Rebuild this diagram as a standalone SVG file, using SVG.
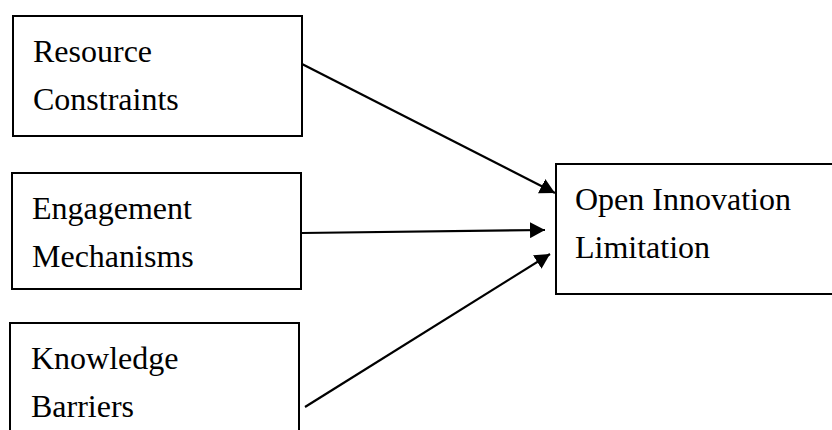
<svg xmlns="http://www.w3.org/2000/svg" width="832" height="430" viewBox="0 0 832 430">
<style>
.box{fill:#fff;stroke:#000;stroke-width:2}
.t{font-family:"Liberation Serif","Times New Roman",serif;font-size:32px;fill:#000}
.c{stroke:#000;stroke-width:2.2;fill:none;marker-end:url(#ah)}
</style>
<defs>
<marker id="ah" markerUnits="userSpaceOnUse" markerWidth="16" markerHeight="16" viewBox="0 0 16 16" refX="15" refY="8" orient="auto">
<path d="M0,0 L15,8 L0,16 Z" fill="#000"/>
</marker>
</defs>
<rect width="832" height="430" fill="#fff"/>
<g id="resource">
<rect class="box" x="13" y="16" width="289" height="120"/>
<text class="t" x="33" y="62">Resource</text>
<text class="t" x="33" y="110">Constraints</text>
</g>
<g id="engagement">
<rect class="box" x="12" y="173" width="289" height="116"/>
<text class="t" x="32" y="219">Engagement</text>
<text class="t" x="32" y="267">Mechanisms</text>
</g>
<g id="knowledge">
<rect class="box" x="10" y="323" width="289" height="120"/>
<text class="t" x="31" y="369">Knowledge</text>
<text class="t" x="31" y="417">Barriers</text>
</g>
<g id="open-innovation">
<rect class="box" x="556" y="164" width="290" height="130"/>
<text class="t" x="575" y="210">Open Innovation</text>
<text class="t" x="575" y="258">Limitation</text>
</g>
<g id="connectors">
<line class="c" x1="302" y1="64" x2="555" y2="193"/>
<line class="c" x1="302" y1="233" x2="545" y2="230"/>
<line class="c" x1="305" y1="407" x2="550" y2="254"/>
</g>
</svg>
